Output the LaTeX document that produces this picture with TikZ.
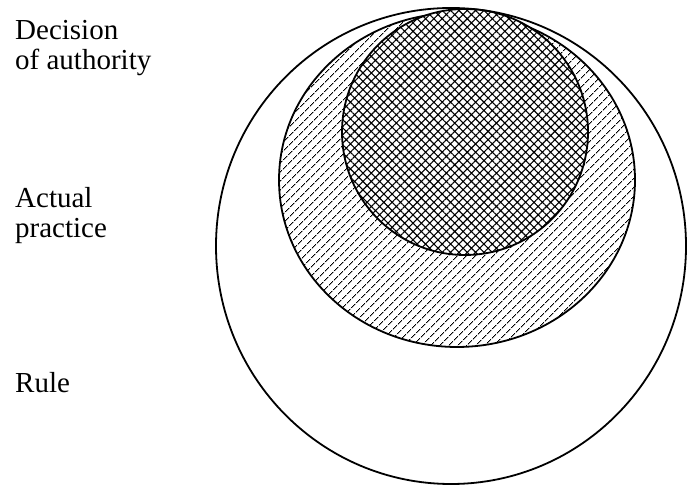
\documentclass[tikz,border=0pt]{standalone}
\usepackage{fontspec}
\setmainfont{Liberation Serif}
\usetikzlibrary{patterns.meta}
\tikzset{
  ring/.style={draw=black, line width=1.8pt},
  lbl/.style={anchor=base west, inner sep=0pt, font=\fontsize{29}{30}\selectfont, align=left},
}
\begin{document}
\begin{tikzpicture}[x=1pt,y=1pt]
\useasboundingbox (0,0) rectangle (687,486);
% outer circle (Rule)
\draw[ring] (451,240) ellipse [x radius=235, y radius=238];
% middle circle (Actual practice)
\fill[white] (457,306) ellipse [x radius=178, y radius=167];
\fill[pattern={Lines[angle=45, distance=6.5pt, line width=1.1pt]}] (457,306) ellipse [x radius=178, y radius=167];
\draw[ring] (457,306) ellipse [x radius=178, y radius=167];
% inner circle (Decision of authority)
\fill[white] (465,354) circle [radius=123];
\fill[pattern={Hatch[angle=45, distance=5.9pt, line width=1.1pt]}] (465,354) circle [radius=123];
\draw[ring] (465,354) circle [radius=123];
% labels
\node[lbl] (dec) at (15,416) {Decision\\of authority};
\node[lbl] (act) at (15,248) {Actual\\practice};
\node[lbl] (rule) at (15,93) {Rule};
\end{tikzpicture}
\end{document}
